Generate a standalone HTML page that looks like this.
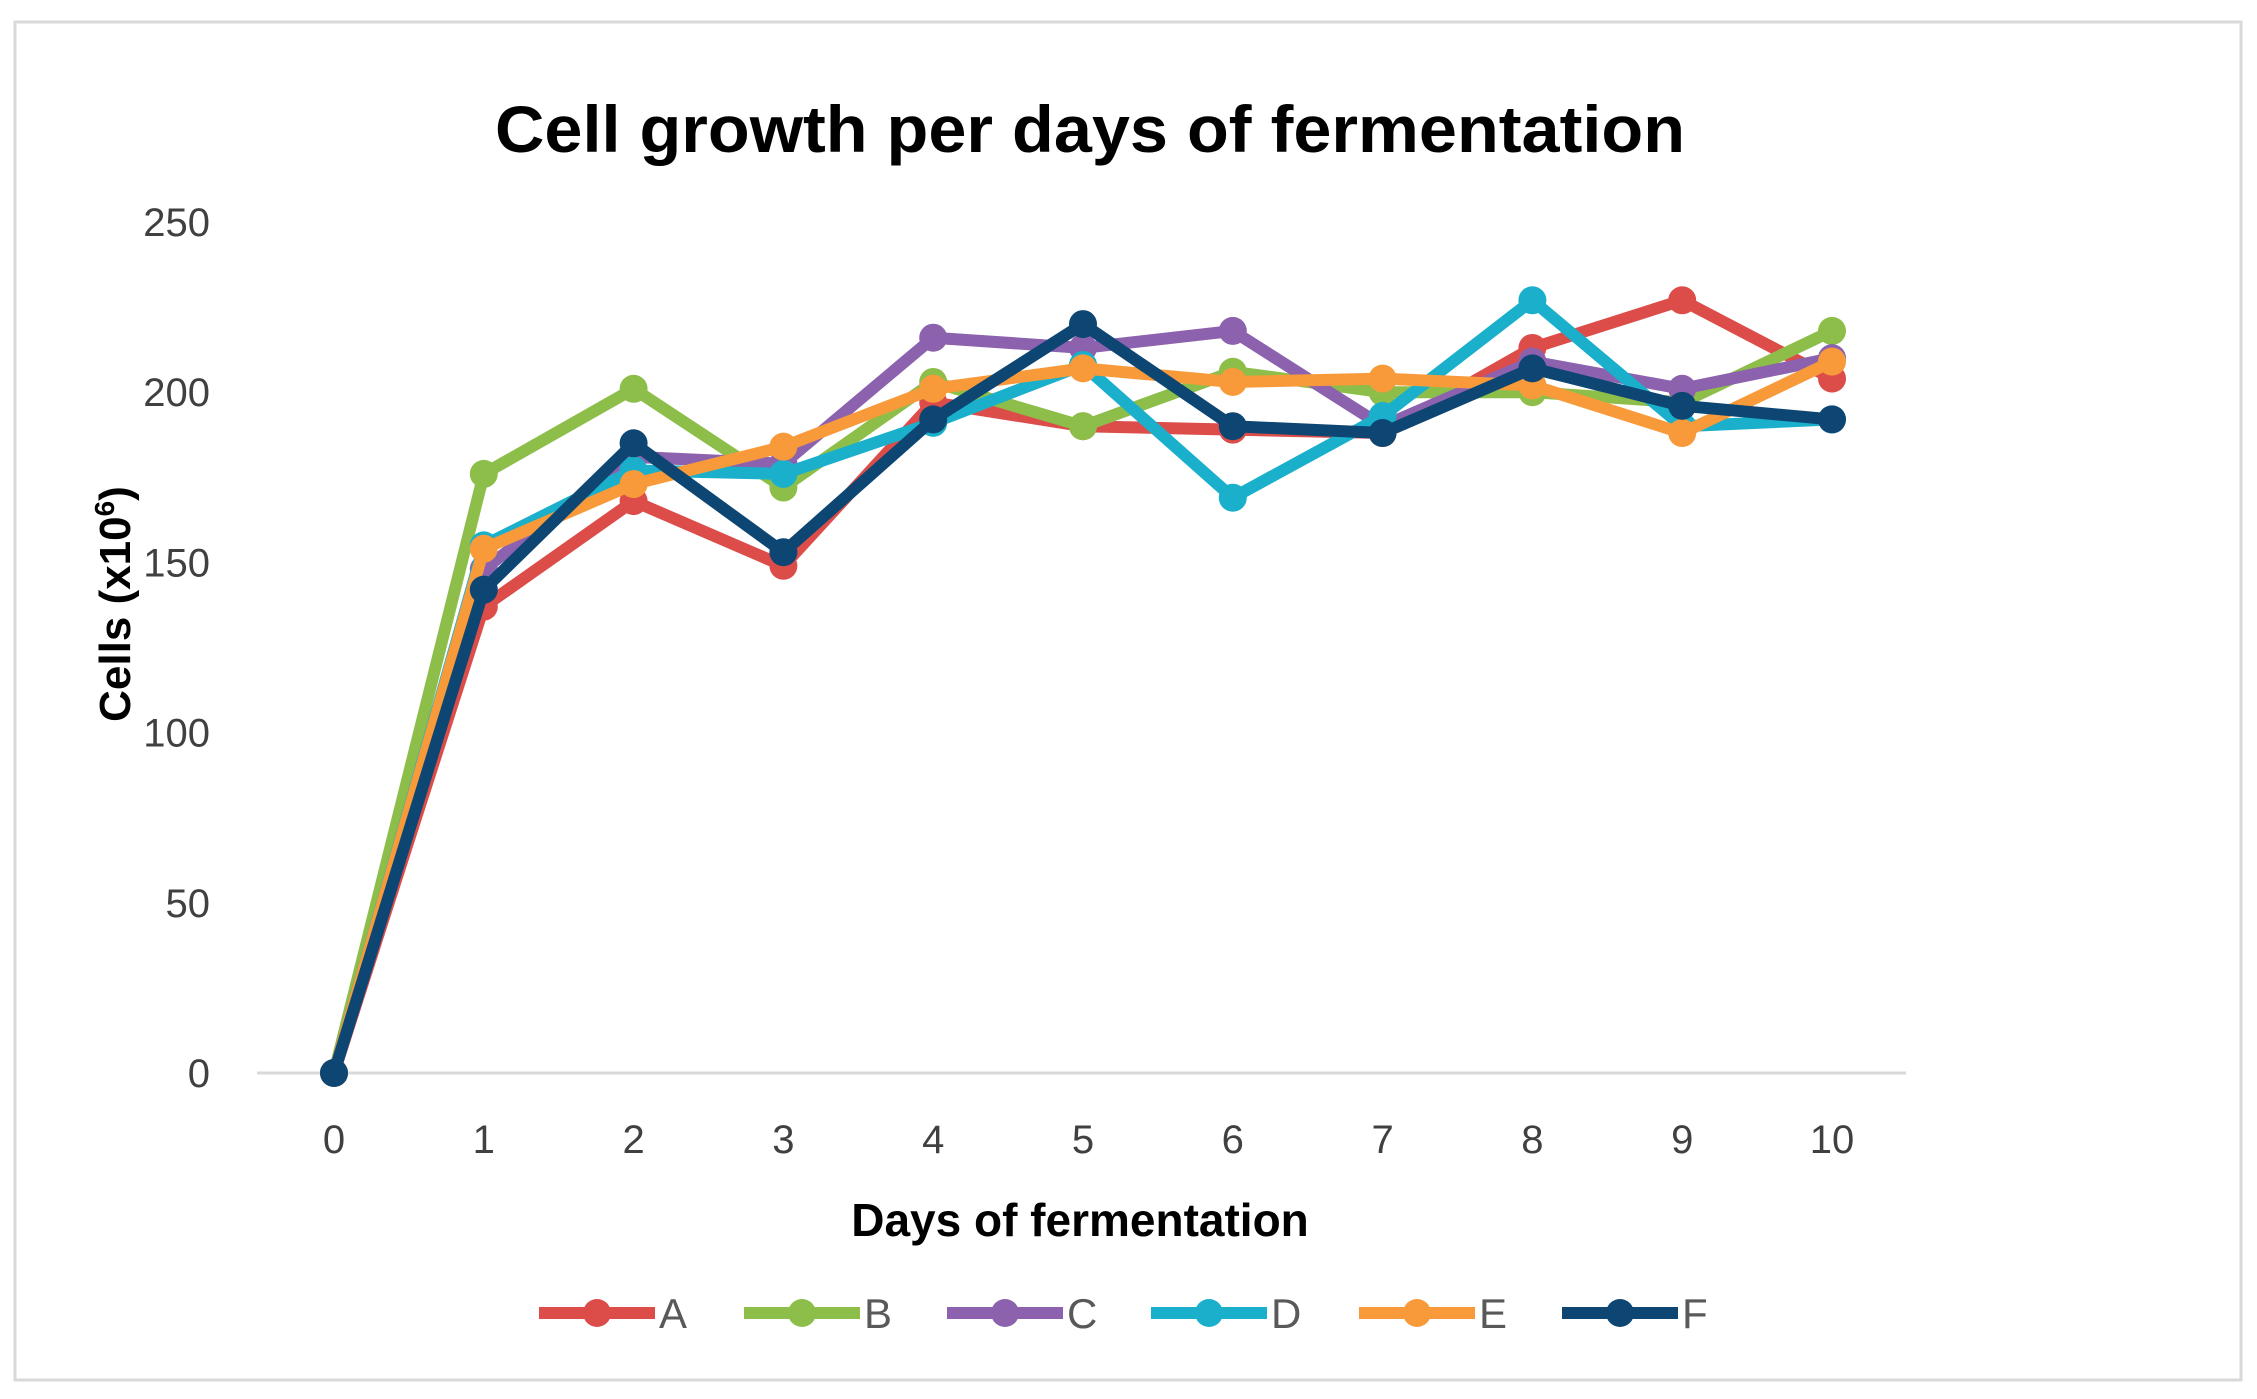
<!DOCTYPE html>
<html><head><meta charset="utf-8"><style>
html,body{margin:0;padding:0;background:#fff;}
svg{display:block;font-family:"Liberation Sans",sans-serif;}
</style></head><body>
<svg id="chart" width="2257" height="1399" viewBox="0 0 2257 1399" xmlns="http://www.w3.org/2000/svg">
<rect x="15" y="22" width="2226" height="1358" fill="#fff" stroke="#d9d9d9" stroke-width="3"/>
<text x="1090" y="152" text-anchor="middle" font-size="66" font-weight="bold" fill="#000" textLength="1190" lengthAdjust="spacingAndGlyphs">Cell growth per days of fermentation</text>
<text transform="translate(130,604) rotate(-90)" text-anchor="middle" font-size="44" font-weight="bold" fill="#000">Cells (x10<tspan font-size="28" dy="-16">6</tspan><tspan dy="16">)</tspan></text>
<text x="1080" y="1236" text-anchor="middle" font-size="46" font-weight="bold" fill="#000">Days of fermentation</text>
<g id="axes"></g>
<g id="series"></g>
<g id="legend"></g>
</svg>
<script>
const days = [0,1,2,3,4,5,6,7,8,9,10];
const yTicks = [0,50,100,150,200,250];
const seriesNames = ["A","B","C","D","E","F"];
const seriesA = [0,137,168,149,197,190,189,188,213,227,204];
const seriesB = [0,176,201,172,203,190,206,200,200,197,218];
const seriesC = [0,148,181,179,216,213,218,190,209,201,210];
const seriesD = [0,155,177,176,191,208,169,193,227,190,192];
const seriesE = [0,154,173,184,201,207,203,204,202,188,209];
const seriesF = [0,142,185,153,192,220,190,188,207,196,192];
const colors = ["#DC4D4A","#8DBE4A","#8C62AE","#1AAFCB","#F89A3A","#0E4673"];

const NS="http://www.w3.org/2000/svg";
const x0=334,x1=1832,y0=1073,y1=222;
function xs(d){return x0+(d-days[0])/(days[days.length-1]-days[0])*(x1-x0);}
function ys(v){return y0-(v-0)/(250-0)*(y0-y1);}
function mk(tag,attrs,parent){const e=document.createElementNS(NS,tag);for(const k in attrs)e.setAttribute(k,attrs[k]);parent.appendChild(e);return e;}

const axes=document.getElementById('axes');
const base=mk('line',{x1:257,x2:1906,y1:ys(0),y2:ys(0),stroke:'#d9d9d9','stroke-width':3},axes);


yTicks.forEach(t=>{
  const tx=mk('text',{x:210,y:ys(t)+14,'text-anchor':'end','font-size':40,fill:'#404040'},axes);
  tx.textContent=t;
  
  
});
days.forEach(d=>{
  const tx=mk('text',{x:xs(d),y:1153,'text-anchor':'middle','font-size':40,fill:'#404040'},axes);
  tx.textContent=d;
  
  
});

const all=[seriesA,seriesB,seriesC,seriesD,seriesE,seriesF];
const sg=document.getElementById('series');
all.forEach((vals,i)=>{
  const g=mk('g',{},sg);
  
  
  const pts=vals.map((v,j)=>xs(days[j])+','+ys(v)).join(' ');
  const pl=mk('polyline',{points:pts,fill:'none',stroke:colors[i],'stroke-width':12,'stroke-linejoin':'round'},g);
  
  
  vals.forEach((v,j)=>{
    const c=mk('circle',{cx:xs(days[j]),cy:ys(v),r:14,fill:colors[i]},g);
    
    
  });
});

const lg=document.getElementById('legend');
const legendX=[539,744,947,1151,1359,1562];
seriesNames.forEach((n,i)=>{
  const g=mk('g',{},lg);
  
  
  const lx=legendX[i],ly=1313;
  mk('line',{x1:lx,x2:lx+116,y1:ly,y2:ly,stroke:colors[i],'stroke-width':12},g);
  mk('circle',{cx:lx+58,cy:ly,r:14,fill:colors[i]},g);
  const t=mk('text',{x:lx+120,y:ly+15,'font-size':42,fill:'#595959'},g);
  t.textContent=n;
});
</script>
</body></html>
